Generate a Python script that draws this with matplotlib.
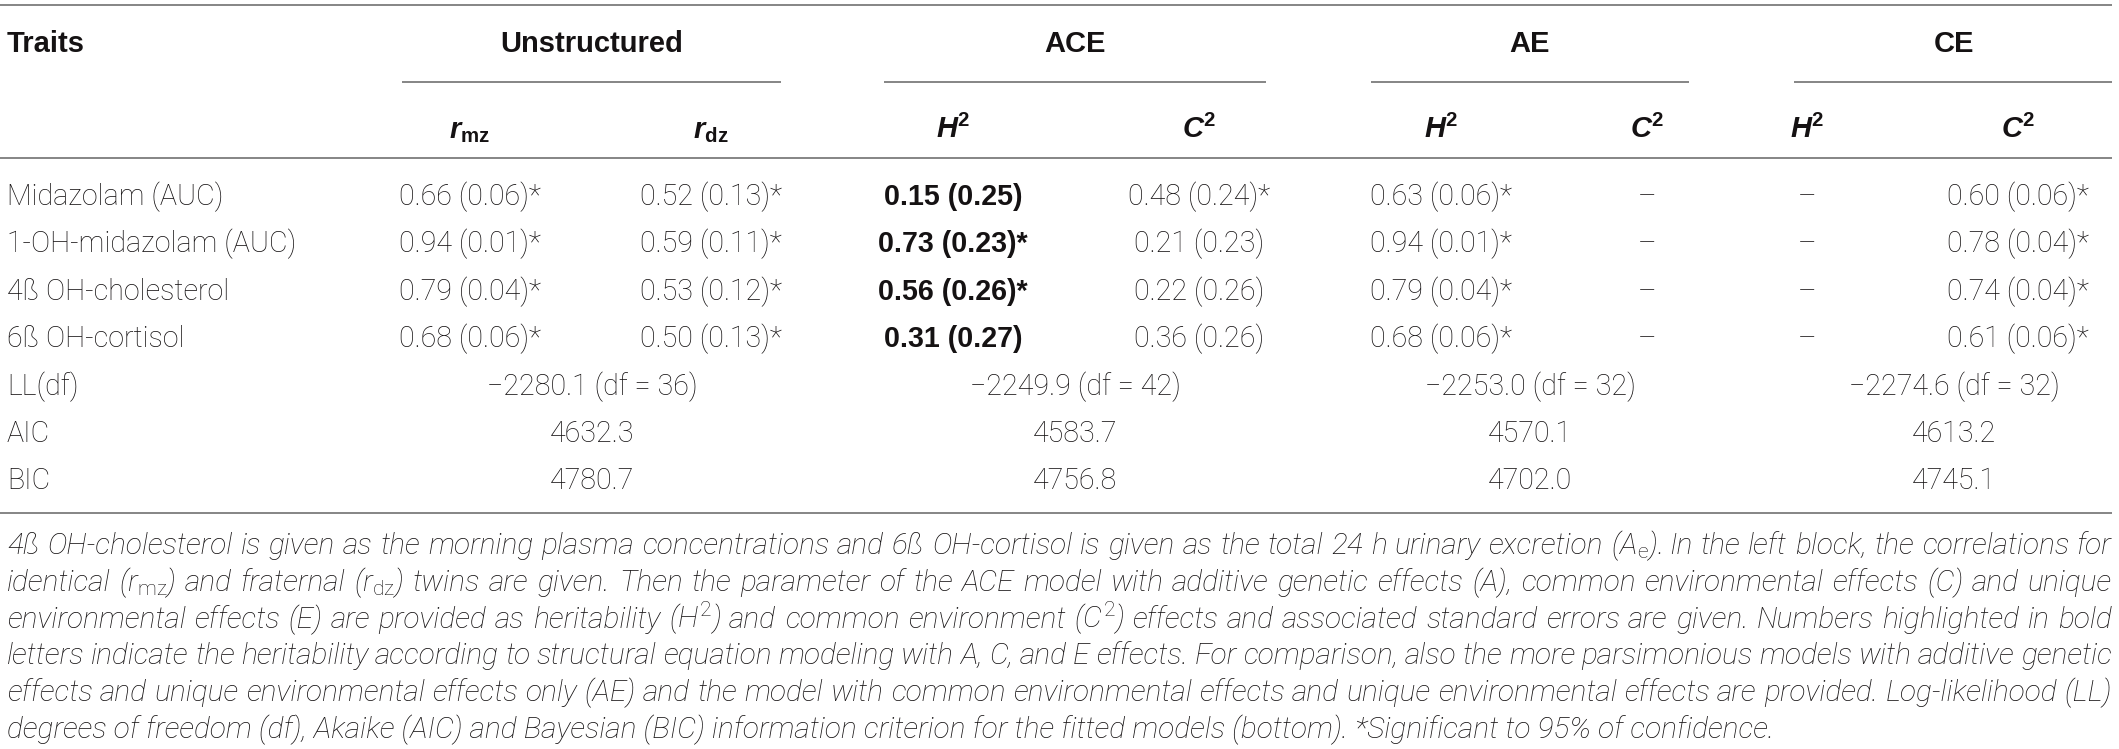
import matplotlib
matplotlib.use("Agg")
import matplotlib.pyplot as plt
from matplotlib import font_manager as fm

# ======================
# TABLE CONTENT
# ======================
models = ["Unstructured", "ACE", "AE", "CE"]
sub_headers = [r"$\mathbfit{r}_{\mathbf{mz}}$", r"$\mathbfit{r}_{\mathbf{dz}}$",
               r"$\mathbfit{H}^{\mathbf{2}}$", r"$\mathbfit{C}^{\mathbf{2}}$",
               r"$\mathbfit{H}^{\mathbf{2}}$", r"$\mathbfit{C}^{\mathbf{2}}$",
               r"$\mathbfit{H}^{\mathbf{2}}$", r"$\mathbfit{C}^{\mathbf{2}}$"]

traits = ["Midazolam (AUC)", "1-OH-midazolam (AUC)", "4ß OH-cholesterol", "6ß OH-cortisol"]
r_mz = ["0.66 (0.06)*", "0.94 (0.01)*", "0.79 (0.04)*", "0.68 (0.06)*"]
r_dz = ["0.52 (0.13)*", "0.59 (0.11)*", "0.53 (0.12)*", "0.50 (0.13)*"]
ace_h2 = ["0.15 (0.25)", "0.73 (0.23)*", "0.56 (0.26)*", "0.31 (0.27)"]
ace_c2 = ["0.48 (0.24)*", "0.21 (0.23)", "0.22 (0.26)", "0.36 (0.26)"]
ae_h2 = ["0.63 (0.06)*", "0.94 (0.01)*", "0.79 (0.04)*", "0.68 (0.06)*"]
ae_c2 = ["–", "–", "–", "–"]
ce_h2 = ["–", "–", "–", "–"]
ce_c2 = ["0.60 (0.06)*", "0.78 (0.04)*", "0.74 (0.04)*", "0.61 (0.06)*"]

fit_labels = ["LL(df)", "AIC", "BIC"]
ll_df = ["−2280.1 (df = 36)", "−2249.9 (df = 42)", "−2253.0 (df = 32)", "−2274.6 (df = 32)"]
aic = ["4632.3", "4583.7", "4570.1", "4613.2"]
bic = ["4780.7", "4756.8", "4702.0", "4745.1"]

footnote = [
    r"4ß OH-cholesterol is given as the morning plasma concentrations and 6ß OH-cortisol is given as the total 24 h urinary excretion (A$_{\mathrm{e}}$). In the left block, the correlations for",
    r"identical ($r_{\mathrm{mz}}$) and fraternal ($r_{\mathrm{dz}}$) twins are given. Then the parameter of the ACE model with additive genetic effects (A), common environmental effects (C) and unique",
    r"environmental effects (E) are provided as heritability ($H^{2}$) and common environment ($C^{2}$) effects and associated standard errors are given. Numbers highlighted in bold",
    r"letters indicate the heritability according to structural equation modeling with A, C, and E effects. For comparison, also the more parsimonious models with additive genetic",
    r"effects and unique environmental effects only (AE) and the model with common environmental effects and unique environmental effects are provided. Log-likelihood (LL)",
    r"degrees of freedom (df), Akaike (AIC) and Bayesian (BIC) information criterion for the fitted models (bottom). *Significant to 95% of confidence.",
]

# ======================
# FONTS
# ======================
def has_light(name):
    for f in fm.fontManager.ttflist:
        w = f.weight
        if isinstance(w, str):
            w = fm.weight_dict.get(w, 400)
        if f.name == name and w <= 300:
            return True
    return False

light = "Liberation Sans"
for cand in ["Roboto", "Lato", "Open Sans", "Inter"]:
    if has_light(cand):
        light = cand
        break
bold = "Liberation Sans"

plt.rcParams["mathtext.fontset"] = "custom"
plt.rcParams["mathtext.rm"] = f"{light}:light"
plt.rcParams["mathtext.it"] = f"{light}:italic:light"
plt.rcParams["mathtext.bf"] = f"{bold}:bold"
plt.rcParams["mathtext.bfit"] = f"{bold}:italic:bold"

INK = "#151213"
RULE = "#858585"

# ======================
# CANVAS (pixel coordinates)
# ======================
W, H = 2119, 749
fig = plt.figure(figsize=(W / 100, H / 100), dpi=100)
ax = fig.add_axes([0, 0, 1, 1])
ax.set_xlim(0, W)
ax.set_ylim(H, 0)
ax.axis("off")
renderer = fig.canvas.get_renderer()


def fit_size(text, target_w, **kw):
    t = ax.text(0, 0, text, fontsize=20, **kw)
    w = t.get_window_extent(renderer).width
    t.remove()
    return 20 * target_w / w


body_fs = fit_size("Midazolam (AUC)", 216, family=light, weight="light")
head_fs = fit_size("Unstructured", 183, family=bold, weight="bold")
note_fs = fit_size(footnote[-1], 1768, family=light, weight="light", style="italic")

# layout
X_LEFT, X_RIGHT = 7, 2112
col_x = [470, 711, 953, 1199, 1441, 1647, 1807, 2018]
group_x = [592, 1075, 1530, 1954]
spans = [(402, 781), (884, 1266), (1371, 1689), (1794, 2112)]
row_y = [195, 242, 290, 337, 385, 432, 479]
note_y = [543, 580, 617, 653, 690, 727]


def body(x, y, s, ha="center", weight="light", fs=None):
    ax.text(x, y + 0.36 * (fs or body_fs) * 100 / 72, s, ha=ha, va="baseline",
            fontsize=fs or body_fs, family=light if weight == "light" else bold,
            weight=weight, color=INK)


# ======================
# RULES
# ======================
for y in [5, 158, 513]:
    ax.plot([0, X_RIGHT], [y, y], color=RULE, lw=1.4, solid_capstyle="butt")
for x0, x1 in spans:
    ax.plot([x0, x1], [82, 82], color=RULE, lw=1.4, solid_capstyle="butt")

# ======================
# HEADER
# ======================
body(X_LEFT, 42, "Traits", ha="left", weight="bold", fs=head_fs)
for gx, name in zip(group_x, models):
    body(gx, 42, name, weight="bold", fs=head_fs)
for cx, sh in zip(col_x, sub_headers):
    body(cx, 128, sh, weight="bold", fs=head_fs)

# ======================
# BODY
# ======================
columns = [r_mz, r_dz, ace_h2, ace_c2, ae_h2, ae_c2, ce_h2, ce_c2]
for i, trait in enumerate(traits):
    body(X_LEFT, row_y[i], trait, ha="left")
    for j, col in enumerate(columns):
        w = "bold" if j == 2 else "light"
        body(col_x[j], row_y[i], col[i], weight=w)

for k, (lab, vals) in enumerate(zip(fit_labels, [ll_df, aic, bic])):
    y = row_y[len(traits) + k]
    body(X_LEFT, y, lab, ha="left")
    for gx, v in zip(group_x, vals):
        body(gx, y, v)

# ======================
# FOOTNOTE (justified lines)
# ======================
for n, line in enumerate(footnote):
    y = note_y[n] + 0.36 * note_fs * 100 / 72
    if n == len(footnote) - 1:
        ax.text(X_LEFT, y, line, ha="left", va="baseline", fontsize=note_fs,
                family=light, weight="light", style="italic", color=INK)
        continue
    words = line.split(" ")
    texts = [ax.text(0, y, w, ha="left", va="baseline", fontsize=note_fs,
                     family=light, weight="light", style="italic", color=INK)
             for w in words]
    widths = [t.get_window_extent(renderer).width for t in texts]
    gap = (X_RIGHT - X_LEFT - sum(widths)) / (len(words) - 1)
    x = X_LEFT
    for t, w in zip(texts, widths):
        t.set_x(x)
        x += w + gap

fig.savefig("out.png", dpi=100)
